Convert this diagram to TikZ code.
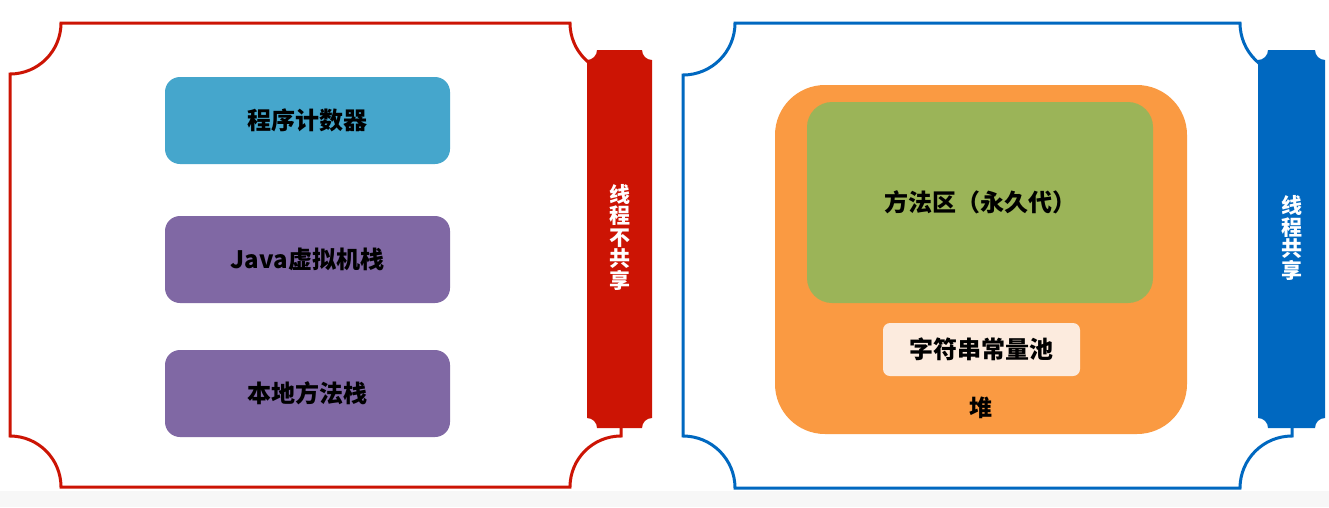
\documentclass[tikz,border=0pt]{standalone}
\usepackage{fontspec}
\setmainfont{Noto Sans CJK SC}
\definecolor{fred}{RGB}{204,20,4}
\definecolor{fblue}{RGB}{0,104,192}
\definecolor{pccol}{RGB}{69,166,204}
\definecolor{purp}{RGB}{128,104,164}
\definecolor{heapcol}{RGB}{250,154,66}
\definecolor{greencol}{RGB}{155,180,88}
\definecolor{peach}{RGB}{252,235,222}
\newcommand\notchrect[6]{\path[#6] ({#1+#5},#2) -- ({#3-#5},#2) arc[start angle=180,end angle=90,radius=#5] -- (#3,{#4-#5}) arc[start angle=270,end angle=180,radius=#5] -- ({#1+#5},#4) arc[start angle=0,end angle=-90,radius=#5] -- (#1,{#2+#5}) arc[start angle=90,end angle=0,radius=#5] -- cycle;}
\tikzset{
  memtext/.style={font=\fontsize{24}{27}\selectfont\bfseries, text=black},
  membox/.style={memtext, rounded corners=15pt, minimum width=285pt, minimum height=87pt, inner sep=0pt},
  barlabel/.style={font=\fontsize{21}{21.5}\selectfont\bfseries, text=white, align=center, inner sep=0pt},
}
\begin{document}
\begin{tikzpicture}[x=1pt,y=-1pt]
\useasboundingbox (0,0) rectangle (1329,507);
\fill[white] (0,0) rectangle (1329,507);
\fill[black!3] (0,491) rectangle (1329,507);
% frames
\notchrect{10}{23}{621}{487}{51}{draw=fred, line width=3pt, fill=white}
\notchrect{683}{23}{1292}{488}{52}{draw=fblue, line width=3pt, fill=white}
% bars
\notchrect{587}{50}{652}{428}{10}{fill=fred}
\notchrect{1258}{50}{1325}{428}{10}{fill=fblue}
\node[barlabel] (redlbl) at (620,237) {线\\程\\不\\共\\享};
\node[barlabel] (bluelbl) at (1292,238) {线\\程\\共\\享};
% left boxes
\node[membox, fill=pccol] (pc) at (307.5,120.5) {程序计数器};
\node[membox, fill=purp] (jvms) at (307.5,259.5) {Java虚拟机栈};
\node[membox, fill=purp] (nms) at (307.5,393.5) {本地方法栈};
% heap
\node[rounded corners=50pt, fill=heapcol, minimum width=412pt, minimum height=349pt, inner sep=0pt] (heap) at (981,259.5) {};
\node[memtext, rounded corners=25pt, fill=greencol, minimum width=346pt, minimum height=201pt, inner sep=0pt] (method) at (980,202.5) {方法区（永久代）};
\node[memtext, rounded corners=7pt, fill=peach, minimum width=197pt, minimum height=53pt, inner sep=0pt] (pool) at (981.5,349.5) {字符串常量池};
\node[memtext, font=\fontsize{23}{25}\selectfont\bfseries] (heaplbl) at (981,408) {堆};
\end{tikzpicture}
\end{document}
